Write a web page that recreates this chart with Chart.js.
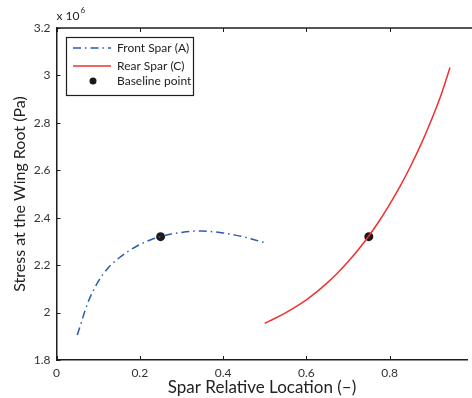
<!DOCTYPE html>
<html><head><meta charset="utf-8">
<script src="https://cdn.jsdelivr.net/npm/chart.js@4"></script>
<style>html,body{margin:0;padding:0;background:#fff;overflow:hidden}</style>
</head><body>
<canvas id="c" width="472" height="398"></canvas>
<script>
// Data (stress in units of 1e6 Pa)
const frontX = [0.05,0.075,0.10,0.125,0.15,0.175,0.20,0.225,0.25,0.275,0.30,0.325,0.35,0.375,0.40,0.425,0.45,0.475,0.50];
const frontY = [1.905,2.04,2.13,2.19,2.23,2.262,2.287,2.306,2.32,2.331,2.338,2.343,2.344,2.341,2.336,2.328,2.319,2.307,2.295];
const rearX = [0.50,0.525,0.55,0.575,0.60,0.625,0.65,0.675,0.70,0.725,0.75,0.775,0.80,0.825,0.85,0.875,0.90,0.925,0.945];
const rearY = [1.955,1.976,1.999,2.025,2.054,2.087,2.125,2.167,2.214,2.266,2.323,2.386,2.456,2.532,2.616,2.708,2.811,2.925,3.033];
const baseX = [0.25,0.75];
const baseY = [2.32,2.32];
const xTicks = [0,0.2,0.4,0.6,0.8];
const yTicks = [1.8,2.0,2.2,2.4,2.6,2.8,3.0,3.2];
const seriesLabels = ['Front Spar (A)','Rear Spar (C)','Baseline point'];
const xTitle = 'Spar Relative Location (\u2013)';
const yTitle = 'Stress at the Wing Root (Pa)';
const multiplier = ['x 10','6'];

const FONT = 'Lato';
const pts = (xs, ys) => xs.map((x, i) => ({x, y: ys[i]}));
const BLUE = '#2a5db0', RED = '#f03030', DARK = '#1e1e1e';

const bgPlugin = {
  id: 'bg',
  beforeDraw(chart) {
    const ctx = chart.ctx;
    ctx.save(); ctx.fillStyle = '#fff'; ctx.fillRect(0, 0, chart.width, chart.height); ctx.restore();
  }
};

const decoPlugin = {
  id: 'deco',
  afterDraw(chart) {
    const ctx = chart.ctx, a = chart.chartArea;
    const xs = chart.scales.x, ys = chart.scales.y;
    ctx.save();
    ctx.strokeStyle = DARK; ctx.lineWidth = 1.5;
    // top border
    ctx.beginPath(); ctx.moveTo(a.left, a.top); ctx.lineTo(chart.width, a.top); ctx.stroke();
    ctx.lineWidth = 1;
    const L = 4;
    xs.ticks.forEach(t => {
      const p = Math.round(xs.getPixelForValue(t.value)) + 0.5;
      ctx.beginPath(); ctx.moveTo(p, a.bottom); ctx.lineTo(p, a.bottom - L); ctx.stroke();
      ctx.beginPath(); ctx.moveTo(p, a.top); ctx.lineTo(p, a.top + L); ctx.stroke();
    });
    ys.ticks.forEach(t => {
      const p = Math.round(ys.getPixelForValue(t.value)) + 0.5;
      ctx.beginPath(); ctx.moveTo(a.left, p); ctx.lineTo(a.left + L, p); ctx.stroke();
    });
    // multiplier label
    ctx.fillStyle = '#222';
    ctx.textBaseline = 'alphabetic';
    ctx.font = '12px ' + FONT;
    ctx.fillText(multiplier[0], a.left, a.top - 8);
    const w = ctx.measureText(multiplier[0]).width;
    ctx.font = '8px ' + FONT;
    ctx.fillText(multiplier[1], a.left + w + 1, a.top - 15);

    // legend box
    const bx = 66, by = 37, bw = 127, bh = 58;
    ctx.fillStyle = '#fff';
    ctx.fillRect(bx, by, bw, bh);
    ctx.strokeStyle = DARK; ctx.lineWidth = 1.2;
    ctx.strokeRect(bx + 0.5, by + 0.5, bw, bh);
    const rows = [48, 66, 81];
    chart.data.datasets.forEach((ds, i) => {
      const y = rows[i];
      if (ds.showLine === false) {
        ctx.fillStyle = ds.pointBackgroundColor;
        ctx.beginPath(); ctx.arc(93, y, 3.5, 0, Math.PI * 2); ctx.fill();
      } else {
        ctx.strokeStyle = ds.borderColor; ctx.lineWidth = ds.borderWidth;
        ctx.setLineDash(ds.borderDash || []);
        ctx.beginPath(); ctx.moveTo(73, y); ctx.lineTo(111, y); ctx.stroke();
        ctx.setLineDash([]);
      }
      ctx.fillStyle = '#222';
      ctx.font = '12px ' + FONT;
      ctx.textBaseline = 'middle';
      ctx.fillText(ds.label, 117, y);
    });
    ctx.restore();
  }
};

const filterTicks = (list) => (scale) => {
  scale.ticks = list.map(v => ({value: v}));
};

new Chart(document.getElementById('c'), {
  type: 'scatter',
  data: {
    datasets: [
      {label: seriesLabels[0], data: pts(frontX, frontY), showLine: true, borderColor: BLUE, borderWidth: 1.5,
       borderDash: [8, 4, 1.5, 4], pointRadius: 0, cubicInterpolationMode: 'monotone', fill: false},
      {label: seriesLabels[1], data: pts(rearX, rearY), showLine: true, borderColor: RED, borderWidth: 1.5,
       pointRadius: 0, cubicInterpolationMode: 'monotone', fill: false},
      {label: seriesLabels[2], data: pts(baseX, baseY), showLine: false, pointRadius: 4.5,
       pointBackgroundColor: '#1a1a1a', pointBorderColor: '#1a1a1a', pointBorderWidth: 0}
    ]
  },
  options: {
    responsive: false,
    animation: false,
    devicePixelRatio: 1,
    layout: {padding: {top: 28, right: 0, left: 0, bottom: 0}},
    plugins: {legend: {display: false}, tooltip: {enabled: false}},
    scales: {
      x: {
        type: 'linear', min: 0, max: 0.987,
        afterBuildTicks: filterTicks(xTicks),
        afterFit: s => { s.height = 38; },
        grid: {display: false, drawTicks: false},
        border: {display: true, color: DARK, width: 1.5},
        ticks: {padding: 6, color: '#333', font: {family: FONT, size: 12}, maxRotation: 0,
                callback: v => String(+v.toFixed(2))},
        title: {display: true, text: xTitle, color: '#222', font: {family: FONT, size: 17}, padding: {top: 0, bottom: 0}}
      },
      y: {
        type: 'linear', min: 1.8, max: 3.2,
        afterBuildTicks: filterTicks(yTicks),
        afterFit: s => { s.width = 56.5; },
        grid: {display: false, drawTicks: false},
        border: {display: true, color: DARK, width: 1.5},
        ticks: {padding: 6, color: '#333', font: {family: FONT, size: 12},
                callback: v => String(+v.toFixed(2))},
        title: {display: true, text: yTitle, color: '#222', font: {family: FONT, size: 16}, padding: {top: 10, bottom: 0}}
      }
    }
  },
  plugins: [bgPlugin, decoPlugin]
});
</script>
</body></html>
